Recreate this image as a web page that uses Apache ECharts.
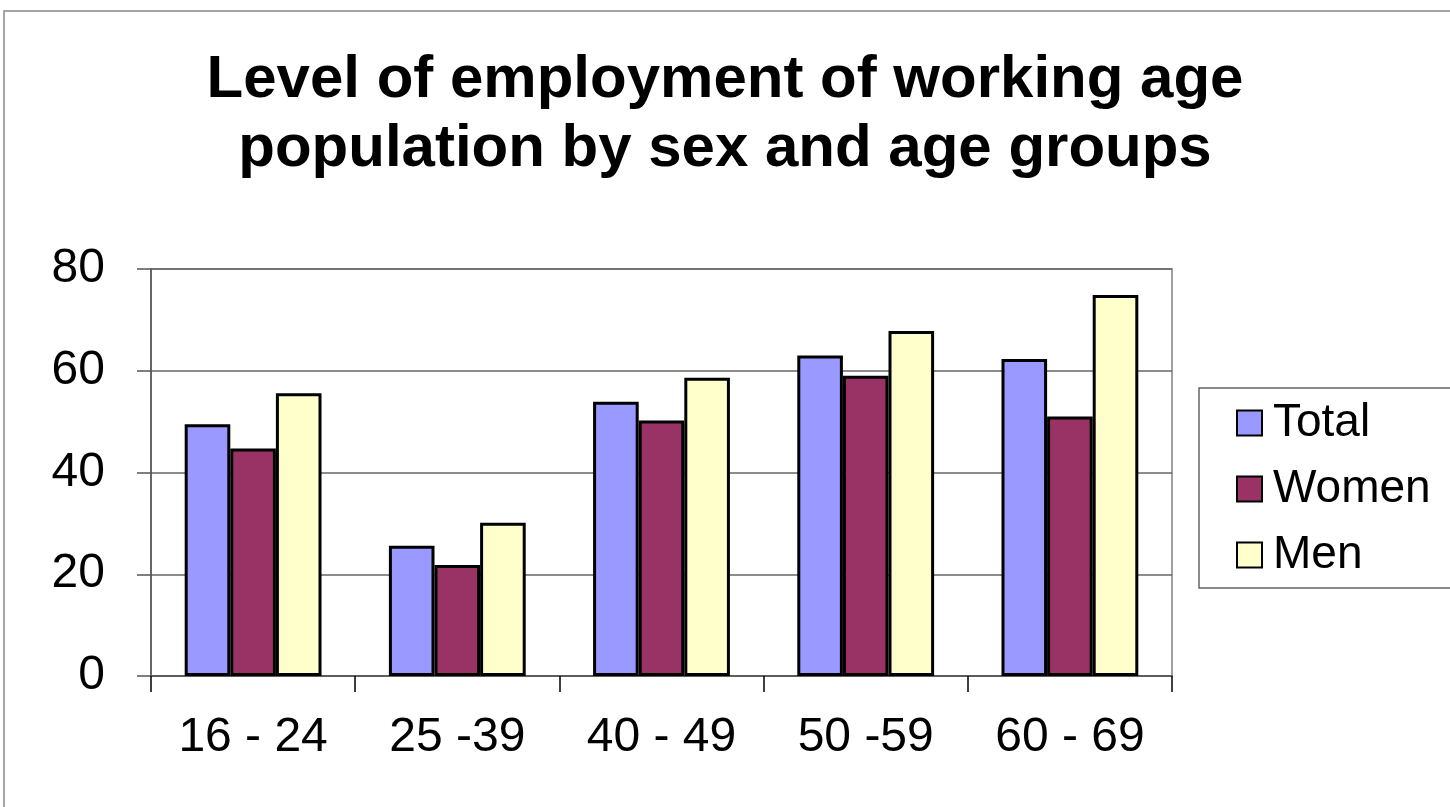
<!DOCTYPE html>
<html>
<head>
    <meta charset="utf-8">
    <title>Employment by sex and age</title>
    <script src="https://cdn.jsdelivr.net/npm/echarts@6/dist/echarts.min.js"></script>
    <style>
        html, body { margin: 0; padding: 0; background: #fff; }
    </style>
</head>
<body>
    <div id="main" style="width: 1450px;height:807px;"></div>
    <script type="text/javascript">
        // data
        var ageGroups = ['16 - 24', '25 -39', '40 - 49', '50 -59', '60 - 69'];
        var total = [49.5, 25.6, 53.9, 63.0, 62.3];
        var women = [44.7, 21.8, 50.2, 59.0, 51.0];
        var men = [55.6, 30.1, 58.6, 67.8, 74.9];
        var yTicks = { min: 0, max: 80, step: 20 };

        var font = '"Liberation Sans", Arial, sans-serif';

        var myChart = echarts.init(document.getElementById('main'));

        function bar(name, data, color) {
            return {
                name: name,
                type: 'bar',
                data: data,
                barGap: '0%',
                barCategoryGap: '33%',
                itemStyle: { color: color, borderColor: '#000', borderWidth: 3 }
            };
        }

        var option = {
            backgroundColor: '#fff',
            animation: false,
            title: {
                text: 'Level of employment of working age\npopulation by sex and age groups',
                left: 'center',
                top: 41,
                textStyle: {
                    fontFamily: font, fontWeight: 'bold', fontSize: 60,
                    lineHeight: 69, color: '#000'
                }
            },
            graphic: [
                {   // outer chart frame
                    type: 'rect', silent: true,
                    shape: { x: 4, y: 11, width: 1500, height: 900 },
                    style: { fill: null, stroke: '#888', lineWidth: 1.5 }
                },
                {   // legend box
                    type: 'rect', silent: true,
                    shape: { x: 1199, y: 388, width: 300, height: 200 },
                    style: { fill: '#fff', stroke: '#666', lineWidth: 1.5 }
                }
            ],
            legend: {
                orient: 'vertical',
                left: 1231,
                top: 395,
                itemWidth: 25,
                itemHeight: 25,
                itemGap: 20,
                icon: 'rect',
                z: 10,
                itemStyle: { borderColor: '#000', borderWidth: 2 },
                textStyle: { fontFamily: font, fontSize: 46, lineHeight: 46, color: '#000', padding: [0, 0, 0, 6] },
                data: ['Total', 'Women', 'Men']
            },
            grid: {
                left: 151, right: 278, top: 269, bottom: 131,
                show: true, borderColor: '#808080', borderWidth: 1.5
            },
            xAxis: {
                type: 'category',
                data: ageGroups,
                axisLine: { lineStyle: { color: '#555', width: 1.5 } },
                axisTick: { show: true, alignWithLabel: false, length: 16, lineStyle: { color: '#000', width: 1.5 } },
                axisLabel: { fontFamily: font, fontSize: 48, color: '#000', margin: 38 }
            },
            yAxis: {
                type: 'value',
                min: yTicks.min, max: yTicks.max, interval: yTicks.step,
                axisLine: { show: true, lineStyle: { color: '#555', width: 1.5 } },
                axisTick: { show: true, length: 14, lineStyle: { color: '#555', width: 1.5 } },
                splitLine: { lineStyle: { color: '#666', width: 1.5 } },
                axisLabel: { fontFamily: font, fontSize: 48, color: '#000', margin: 46 }
            },
            series: [
                bar('Total', total, '#9999ff'),
                bar('Women', women, '#993366'),
                bar('Men', men, '#ffffcc')
            ]
        };

        myChart.setOption(option);
    </script>
</body>
</html>
